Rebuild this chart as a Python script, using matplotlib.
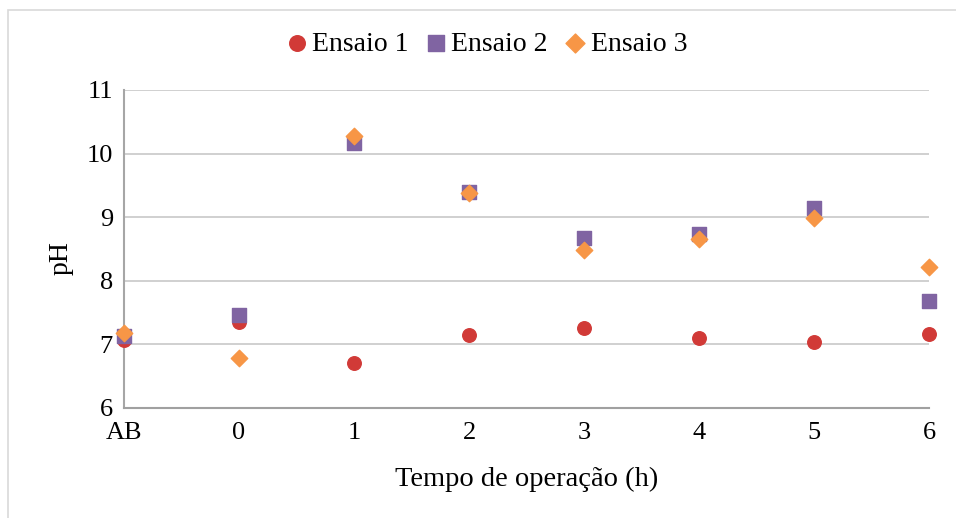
import numpy as np
import matplotlib
matplotlib.use("Agg")
import matplotlib.pyplot as plt
from matplotlib.patches import Rectangle

# pH medido ao longo do tempo de operação, três ensaios
tempos = ["AB", "0", "1", "2", "3", "4", "5", "6"]
ensaio1 = [7.07, 7.35, 6.71, 7.14, 7.25, 7.10, 7.03, 7.16]
ensaio2 = [7.13, 7.46, 10.17, 9.40, 8.67, 8.73, 9.14, 7.68]
ensaio3 = [7.18, 6.78, 10.27, 9.38, 8.48, 8.66, 8.98, 8.22]

plt.rcParams['font.family'] = ['Liberation Serif', 'DejaVu Serif']

fig = plt.figure(figsize=(9.56, 5.18), dpi=100)
ax = fig.add_axes([0.1297, 0.2124, 0.8421, 0.6139])

x = np.arange(len(tempos))
ax.scatter(x, ensaio1, marker='o', s=95, color='#D13A37', label='Ensaio 1', zorder=3, clip_on=False)
ax.scatter(x, ensaio2, marker='s', s=90, color='#8064A2', label='Ensaio 2', zorder=3, clip_on=False)
ax.scatter(x, ensaio3, marker='D', s=70, color='#F79646', label='Ensaio 3', zorder=4, clip_on=False)

ax.set_xlim(0, len(tempos) - 1)
ax.set_ylim(6, 11)
ax.set_xticks(x)
ax.set_xticklabels(tempos)
ax.set_yticks(range(6, 12))
ax.tick_params(axis='both', length=0, labelsize=19)
ax.tick_params(axis='x', pad=10)
ax.tick_params(axis='y', pad=8)

ax.grid(axis='y', color='#C8C8C8', linewidth=1.2)
ax.set_axisbelow(True)
for side in ['top', 'right']:
    ax.spines[side].set_visible(False)
ax.spines['left'].set_color('#A6A6A6')
ax.spines['left'].set_linewidth(1.5)
ax.spines['bottom'].set_color('#A0A0A0')
ax.spines['bottom'].set_linewidth(1.5)

ax.set_xlabel("Tempo de operação (h)", fontsize=20.5)
ax.set_ylabel("pH", fontsize=20)
ax.xaxis.set_label_coords(0.5, -0.185)
ax.yaxis.set_label_coords(-0.062, 0.47)

fig.legend(loc='center', bbox_to_anchor=(487 / 956, 1 - 44 / 518), ncol=3,
           frameon=False, fontsize=20, handlelength=0.7, handletextpad=0.2,
           columnspacing=0.64, markerscale=1.15, borderaxespad=0)

# borda da área do gráfico
fig.patches.append(Rectangle((8 / 956, -0.1), 1.2, 1 - 10 / 518 + 0.1,
                             transform=fig.transFigure, fill=False,
                             edgecolor='#D9D9D9', linewidth=1.2))

fig.savefig("out.png", dpi=100)
